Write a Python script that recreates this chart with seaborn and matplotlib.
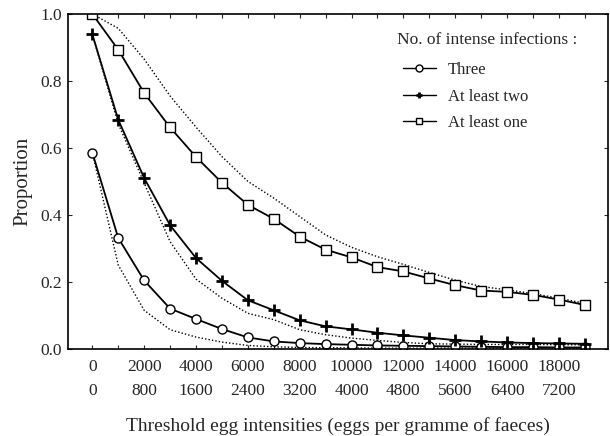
import numpy as np
import pandas as pd
import matplotlib
matplotlib.use("Agg")
import matplotlib.pyplot as plt
import seaborn as sns

# Data
thresholds = list(range(0, 20000, 1000))
three = [0.586, 0.331, 0.204, 0.120, 0.089, 0.059, 0.034, 0.022, 0.017, 0.014,
         0.012, 0.010, 0.009, 0.008, 0.007, 0.006, 0.005, 0.005, 0.004, 0.004]
at_least_two = [0.939, 0.684, 0.510, 0.369, 0.271, 0.203, 0.145, 0.115, 0.085, 0.067,
                0.058, 0.048, 0.040, 0.033, 0.026, 0.022, 0.019, 0.017, 0.016, 0.015]
at_least_one = [1.000, 0.893, 0.764, 0.661, 0.573, 0.496, 0.430, 0.388, 0.335, 0.296,
                0.273, 0.244, 0.231, 0.210, 0.190, 0.174, 0.170, 0.161, 0.147, 0.131]
# dotted (expected) curves
exp_three = [0.586, 0.250, 0.115, 0.057, 0.035, 0.020, 0.010, 0.006, 0.004, 0.003,
             0.003, 0.002, 0.002, 0.002, 0.002, 0.002, 0.002, 0.002, 0.002, 0.002]
exp_two = [0.939, 0.672, 0.495, 0.320, 0.208, 0.151, 0.106, 0.087, 0.057, 0.042,
           0.032, 0.025, 0.019, 0.015, 0.014, 0.013, 0.013, 0.013, 0.012, 0.012]
exp_one = [1.000, 0.957, 0.865, 0.755, 0.662, 0.574, 0.500, 0.450, 0.395, 0.340,
           0.303, 0.275, 0.252, 0.228, 0.205, 0.186, 0.176, 0.165, 0.151, 0.136]

tick_top = ["0", "2000", "4000", "6000", "8000", "10000", "12000", "14000", "16000", "18000"]
tick_bottom = ["0", "800", "1600", "2400", "3200", "4000", "4800", "5600", "6400", "7200"]
y_ticks = [0.0, 0.2, 0.4, 0.6, 0.8, 1.0]

sns.set_style("ticks")
plt.rcParams['font.family'] = ['Liberation Serif', 'DejaVu Serif']

fig = plt.figure(figsize=(6.1, 4.36), dpi=100)
ax = fig.add_axes([0.111, 0.200, 0.886, 0.768])

dotted_kw = dict(color="black", linestyle=(0, (1, 1.5)), linewidth=1.0)
for series in (exp_three, exp_two, exp_one):
    sns.lineplot(x=thresholds, y=series, ax=ax, **dotted_kw)

sns.lineplot(x=thresholds, y=three, ax=ax, color="black", linewidth=1.3,
             marker="o", markersize=6.5, markerfacecolor="white",
             markeredgecolor="black", markeredgewidth=1.0, label="Three")
sns.lineplot(x=thresholds, y=at_least_two, ax=ax, color="black", linewidth=1.3,
             marker="+", markersize=8, markeredgecolor="black",
             markeredgewidth=2.0, label="At least two")
sns.lineplot(x=thresholds, y=at_least_one, ax=ax, color="black", linewidth=1.3,
             marker="s", markersize=6.5, markerfacecolor="white",
             markeredgecolor="black", markeredgewidth=1.0, label="At least one")

ax.set_xlim(-950, 19900)
ax.set_ylim(0, 1.0)
ax.set_xticks(thresholds)
labels = []
for i, t in enumerate(thresholds):
    if i % 2 == 0:
        labels.append(tick_top[i // 2] + "\n" + tick_bottom[i // 2])
    else:
        labels.append("")
ax.set_xticklabels(labels, fontsize=12.5)
for lab in ax.get_xticklabels():
    lab.set_linespacing(1.7)
ax.set_yticks(y_ticks)
ax.set_yticklabels([f"{v:.1f}" for v in y_ticks], fontsize=12.5)
ax.tick_params(direction="in", top=True, right=True, length=3, width=0.8, pad=7)
ax.tick_params(axis="y", pad=4)
for s in ax.spines.values():
    s.set_linewidth(1.2)
    s.set_color("black")

ax.set_xlabel("Threshold egg intensities (eggs per gramme of faeces)", fontsize=14, labelpad=13)
ax.set_ylabel("Proportion", fontsize=15, labelpad=6)

leg = ax.legend(title="No. of intense infections :", frameon=False, loc="upper left",
                bbox_to_anchor=(0.588, 0.98), fontsize=12, title_fontsize=12.5,
                alignment="left", handlelength=2.0, labelspacing=0.62,
                handletextpad=0.7, borderpad=0.2)
for h in leg.legend_handles:
    h.set_markersize(5)
    h.set_linewidth(1.0)
leg._legend_box.sep = 6
leg._legend_handle_box.pad = 4

fig.savefig("out.png", dpi=100)
